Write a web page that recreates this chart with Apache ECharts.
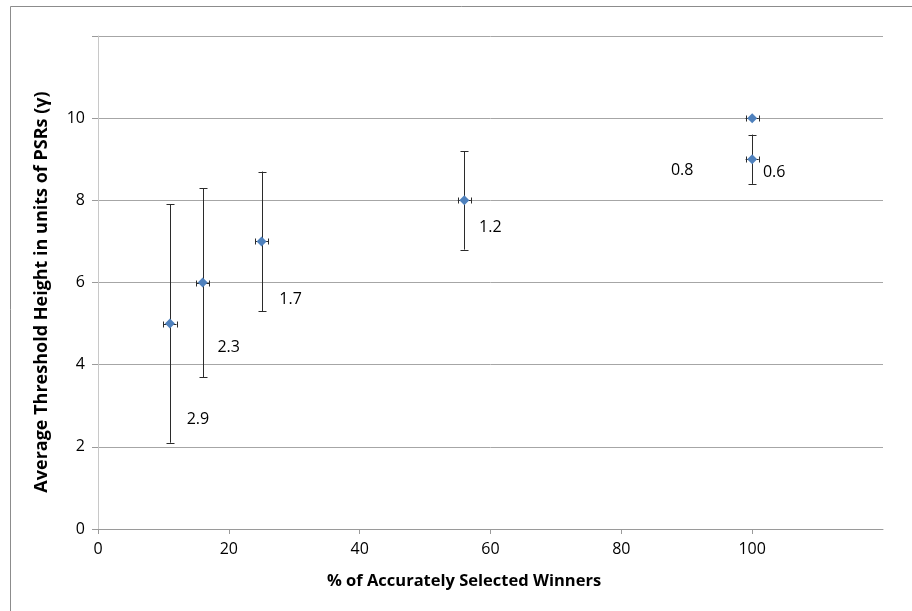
<!DOCTYPE html>
<html>
<head>
<meta charset="utf-8">
<script src="https://cdn.jsdelivr.net/npm/echarts@6/dist/echarts.min.js"></script>
<style>
  html, body { margin: 0; padding: 0; background: #fff; }
  #chart { width: 912px; height: 611px; }
</style>
</head>
<body>
<div id="chart"></div>
<script>
// % of accurately selected winners (x) and average threshold height (y)
const winnersPct = [11, 16, 25, 56, 100, 100];
const thresholdHeight = [5, 6, 7, 8, 9, 10];
// vertical error (standard deviation) and horizontal error
const yError = [2.9, 2.3, 1.7, 1.2, 0.6, 0];
const xError = [1, 1, 1, 1, 1, 1];
// value labels shown beside each point
const errorLabels = ['2.9', '2.3', '1.7', '1.2', '0.6', '0.8'];
const xTicks = [0, 20, 40, 60, 80, 100];
const yTicks = [0, 2, 4, 6, 8, 10, 12];
const yTickLabels = [0, 2, 4, 6, 8, 10];

const font = '"Open Sans", Lato, "Liberation Sans", sans-serif';
const chart = echarts.init(document.getElementById('chart'));

// label placement relative to each point, in pixels
const labelOffsets = [[28, 96], [26, 65], [29, 58], [26, 27], [22, 13], [-70, 52]];

const points = winnersPct.map((x, i) => ({
  value: [x, thresholdHeight[i]],
  label: {
    show: true,
    formatter: errorLabels[i],
    offset: labelOffsets[i]
  }
}));

const errorData = winnersPct.map((x, i) => [x, thresholdHeight[i], yError[i], xError[i]]);

chart.setOption({
  animation: false,
  grid: { left: 98, top: 36, right: 29, bottom: 82, containLabel: false },
  xAxis: {
    type: 'value', min: 0, max: 120, interval: 20,
    axisLine: { show: true, lineStyle: { color: '#9a9a9a', width: 1 } },
    axisTick: { show: true, length: 5, customValues: xTicks, lineStyle: { color: '#9a9a9a' } },
    axisLabel: {
      color: '#000', fontFamily: font, fontSize: 16, margin: 12,
      customValues: xTicks
    },
    splitLine: { show: false }
  },
  yAxis: {
    type: 'value', min: 0, max: 12, interval: 2,
    axisLine: { show: true, onZero: false, lineStyle: { color: '#c8c8c8', width: 1 } },
    axisTick: { show: true, length: 6, customValues: yTicks, lineStyle: { color: '#9a9a9a' } },
    axisLabel: {
      color: '#000', fontFamily: font, fontSize: 16, margin: 13,
      customValues: yTickLabels
    },
    splitLine: { show: true, lineStyle: { color: '#a6a6a6', width: 1 } }
  },
  graphic: [
    {
      type: 'rect', silent: true, z: -1,
      shape: { x: 10.5, y: 6.5, width: 1000, height: 1000 },
      style: { fill: 'none', stroke: '#8c8c8c', lineWidth: 1 }
    },
    {
      type: 'text', x: 464, y: 581,
      style: {
        text: '% of Accurately Selected Winners',
        font: 'bold 16.5px ' + font, fill: '#000',
        align: 'center', verticalAlign: 'middle'
      }
    },
    {
      type: 'text', x: 42, y: 292, rotation: Math.PI / 2,
      style: {
        text: 'Average Threshold Height in units of PSRs (\u03b3)',
        font: 'bold 18px ' + font, fill: '#000',
        align: 'center', verticalAlign: 'middle'
      }
    }
  ],
  series: [
    {
      type: 'custom',
      z: 2,
      data: errorData,
      renderItem: (params, api) => {
        const x = api.value(0), y = api.value(1), ey = api.value(2), ex = api.value(3);
        const children = [];
        const stroke = { stroke: '#2b2b2b', lineWidth: 1 };
        if (ey > 0) {
          const top = api.coord([x, y + ey]);
          const bot = api.coord([x, y - ey]);
          const cx = Math.round(top[0]) + 0.5;
          children.push(
            { type: 'line', shape: { x1: cx, y1: top[1], x2: cx, y2: bot[1] }, style: stroke },
            { type: 'line', shape: { x1: cx - 4, y1: Math.round(top[1]) + 0.5, x2: cx + 4, y2: Math.round(top[1]) + 0.5 }, style: stroke },
            { type: 'line', shape: { x1: cx - 4, y1: Math.round(bot[1]) + 0.5, x2: cx + 4, y2: Math.round(bot[1]) + 0.5 }, style: stroke }
          );
        }
        if (ex > 0) {
          const l = api.coord([x - ex, y]);
          const r = api.coord([x + ex, y]);
          const cy = Math.round(l[1]) + 0.5;
          children.push(
            { type: 'line', shape: { x1: l[0], y1: cy, x2: r[0], y2: cy }, style: stroke },
            { type: 'line', shape: { x1: Math.round(l[0]) + 0.5, y1: cy - 3, x2: Math.round(l[0]) + 0.5, y2: cy + 3 }, style: stroke },
            { type: 'line', shape: { x1: Math.round(r[0]) + 0.5, y1: cy - 3, x2: Math.round(r[0]) + 0.5, y2: cy + 3 }, style: stroke }
          );
        }
        return { type: 'group', children };
      }
    },
    {
      type: 'scatter',
      z: 3,
      symbol: 'diamond',
      symbolSize: 10,
      itemStyle: { color: '#4f81bd', opacity: 1 },
      label: {
        position: 'inside',
        color: '#000', fontFamily: font, fontSize: 16,
        textBorderWidth: 0, textBorderColor: 'transparent'
      },
      data: points
    }
  ]
});
</script>
</body>
</html>
